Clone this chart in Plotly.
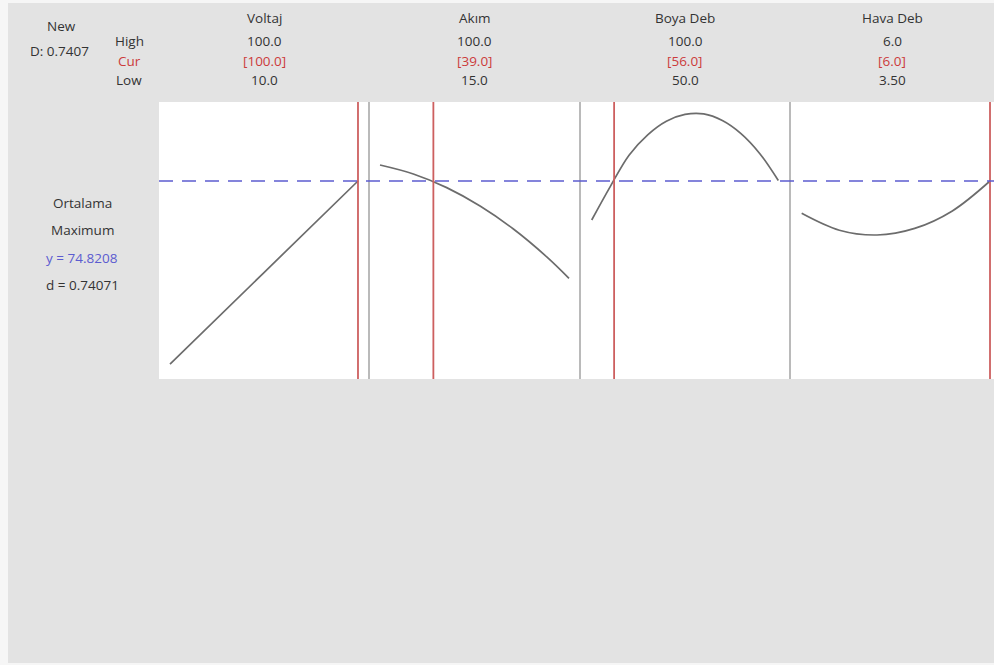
import plotly.graph_objects as go

W, H = 994, 665

# ---- data ----
factor_names = ["Voltaj", "Akım", "Boya Deb", "Hava Deb"]
high_labels = ["100.0", "100.0", "100.0", "6.0"]
cur_labels = ["[100.0]", "[39.0]", "[56.0]", "[6.0]"]
low_labels = ["10.0", "15.0", "50.0", "3.50"]
current_values = [100.0, 39.0, 56.0, 6.0]

voltaj_x = [10, 55, 100]
voltaj_y = [40.0, 57.4, 74.82]

akim_x = [15, 30, 45, 60, 75, 90, 100]
akim_y = [77.86, 76.16, 73.56, 70.06, 65.68, 60.38, 56.3]

boya_x = [50, 55, 60, 65, 70, 75, 80, 85, 90, 95, 100]
boya_y = [67.4, 73.8, 79.73, 83.61, 86.2, 87.49, 87.59, 86.33, 83.84, 80.07, 74.9]

hava_x = [3.5, 4.0, 4.5, 5.0, 5.5, 6.0]
hava_y = [68.67, 65.46, 64.55, 65.8, 69.13, 74.82]

y_target = 74.8208
response_name = "Ortalama"
goal = "Maximum"
y_text = "y = 74.8208"
d_text = "d = 0.74071"
composite_text = "D: 0.7407"

# ---- layout geometry (pixels) ----
plot_top, plot_bot = 102, 379
panel_px = [(159, 369), (369, 580), (580, 790), (790, 994)]
x_ranges = [(4.73, 105.27), (10.05, 104.95), (46.86, 103.13), (3.345, 6.053)]
y_range = (37.15, 89.85)

FONT = "Open Sans"
FS = 13.5
GRAY_BG = "#e3e3e3"
CURVE = "#6c6c6c"
RED_LINE = "rgb(205,95,95)"
RED_TXT = "#cc3b3b"
BLUE = "#5c5cd0"
SEP = "#a3a3a3"

def px_x(p):
    return p / W

def px_y(p):
    return 1 - p / H

fig = go.Figure()
series = [(voltaj_x, voltaj_y), (akim_x, akim_y), (boya_x, boya_y), (hava_x, hava_y)]
for i, (xs, ys) in enumerate(series):
    ax = "x" if i == 0 else f"x{i+1}"
    fig.add_trace(go.Scatter(x=xs, y=ys, mode="lines", xaxis=ax, yaxis="y",
                             line=dict(color=CURVE, width=1.7, shape="spline", smoothing=1.0),
                             showlegend=False, hoverinfo="skip"))

layout = dict(
    width=W, height=H, margin=dict(l=0, r=0, t=0, b=0),
    paper_bgcolor=GRAY_BG, plot_bgcolor="white",
    showlegend=False,
    yaxis=dict(domain=[px_y(plot_bot), px_y(plot_top)], range=list(y_range),
               showgrid=False, zeroline=False, showticklabels=False, ticks="",
               showline=False, anchor="x"),
)
for i, (a, b) in enumerate(panel_px):
    key = "xaxis" if i == 0 else f"xaxis{i+1}"
    layout[key] = dict(domain=[px_x(a), px_x(b)], range=list(x_ranges[i]),
                       showgrid=False, zeroline=False, showticklabels=False,
                       ticks="", showline=False, anchor="y")
fig.update_layout(**layout)

shapes = []
# light page edges
shapes.append(dict(type="rect", xref="paper", yref="paper", x0=0, x1=px_x(8), y0=0, y1=1,
                   fillcolor="#f6f6f6", line=dict(width=0), layer="above"))
shapes.append(dict(type="rect", xref="paper", yref="paper", x0=0, x1=1, y0=px_y(3), y1=1,
                   fillcolor="#f6f6f6", line=dict(width=0), layer="above"))
shapes.append(dict(type="rect", xref="paper", yref="paper", x0=0, x1=1, y0=0, y1=px_y(663),
                   fillcolor="#f6f6f6", line=dict(width=0), layer="above"))
# panel separators
for i in range(1, 4):
    ax = f"x{i+1} domain"
    shapes.append(dict(type="line", xref=ax, yref="y domain", x0=0, x1=0, y0=0, y1=1,
                       line=dict(color=SEP, width=1.5)))
# current value lines
for i, cv in enumerate(current_values):
    ax = "x" if i == 0 else f"x{i+1}"
    shapes.append(dict(type="line", xref=ax, yref="y domain", x0=cv, x1=cv, y0=0, y1=1,
                       line=dict(color=RED_LINE, width=1.8)))
# predicted response dashed line
shapes.append(dict(type="line", xref="paper", yref="y", x0=px_x(panel_px[0][0]), x1=1,
                   y0=y_target, y1=y_target, line=dict(color=BLUE, width=1.4, dash="14px,9px")))
fig.update_layout(shapes=shapes)

ann = []
def txt(x, y, s, color="#333333", size=FS):
    ann.append(dict(xref="paper", yref="paper", x=px_x(x), y=px_y(y), text=s,
                    showarrow=False, xanchor="center", yanchor="middle",
                    font=dict(family=FONT, size=size, color=color)))

txt(61, 26, "New")
txt(59, 51, composite_text)
txt(129, 41, "High")
txt(129, 61, "Cur", RED_TXT)
txt(129, 80, "Low")
for i, (a, b) in enumerate(panel_px):
    cx = (a + b) / 2 if i < 3 else 892
    txt(cx, 18, factor_names[i])
    txt(cx, 41, high_labels[i])
    txt(cx, 61, cur_labels[i], RED_TXT)
    txt(cx, 80, low_labels[i])
txt(82, 203, response_name)
txt(82, 230, goal)
txt(82, 258, y_text, BLUE)
txt(82, 285, d_text)
fig.update_layout(annotations=ann)

fig.write_html("out.html", config={"displayModeBar": False, "staticPlot": True},
               post_script="document.body.style.margin='0px';document.body.style.overflow='hidden';")
